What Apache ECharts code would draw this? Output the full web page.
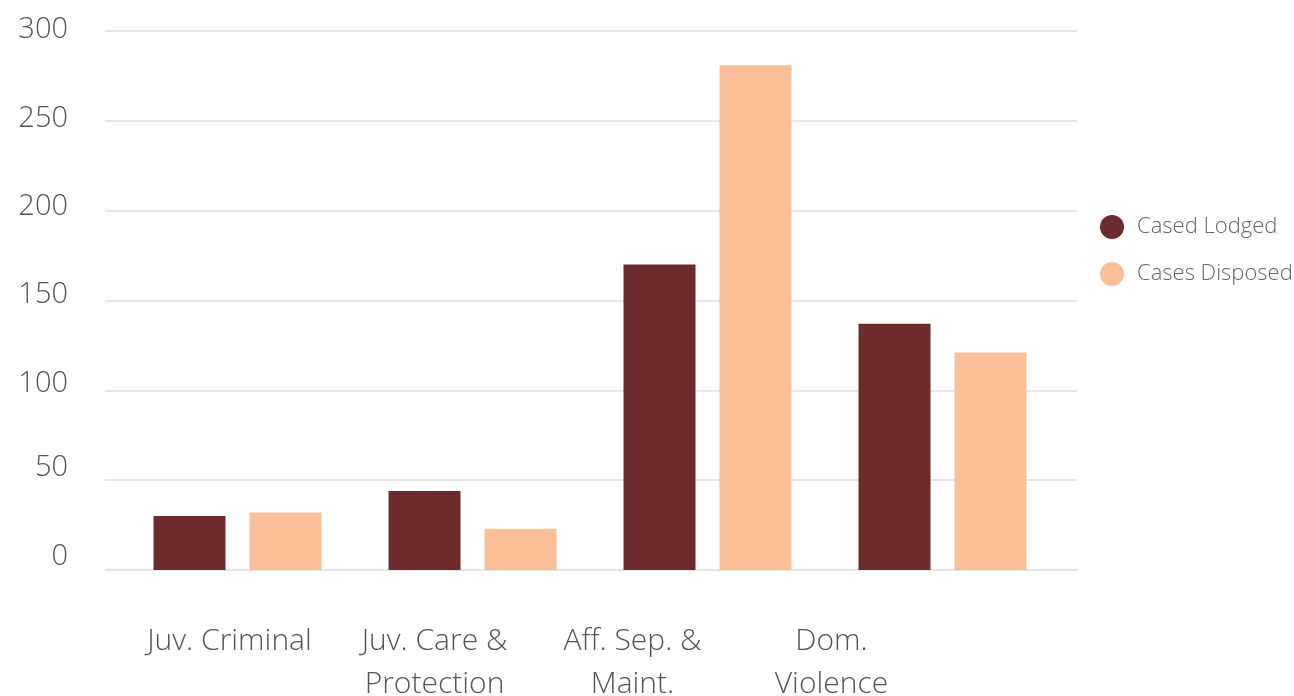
<!DOCTYPE html>
<html>
<head>
<meta charset="utf-8">
<script src="https://cdn.jsdelivr.net/npm/echarts@6/dist/echarts.min.js"></script>
<style>html,body{margin:0;padding:0;background:#fff;}#c{width:1294px;height:696px;}</style>
</head>
<body>
<div id="c"></div>
<script>
var categories = ['Juv. Criminal', 'Juv. Care &\nProtection', 'Aff. Sep. &\nMaint.', 'Dom.\nViolence'];
var casedLodged = [30, 44, 170, 137];
var casesDisposed = [32, 23, 281, 121];
var yTicks = [0, 50, 100, 150, 200, 250, 300];

var labelShift = [-8, -38, -75, -111];
var rich = {};
labelShift.forEach(function (s, i) {
  rich['l' + i] = {
    fontFamily: 'Open Sans', fontWeight: 300, fontSize: 30, color: '#555',
    lineHeight: 43,
    padding: s >= 0 ? [0, 0, 0, 2 * s] : [0, -2 * s, 0, 0]
  };
});
var yLift = [13, 12, 7, 6, 4, 2, 1];
var yRich = {};
yLift.forEach(function (s, i) {
  yRich['y' + i] = {
    fontFamily: 'Open Sans', fontWeight: 300, fontSize: 29, color: '#555',
    padding: [0, 0, 2 * s, 0]
  };
});

var chart = echarts.init(document.getElementById('c'));
chart.setOption({
  animation: false,
  grid: [
    { left: 105, right: 217, top: 31, bottom: 126, containLabel: false, outerBoundsMode: 'none' },
    { left: 120, width: 940, top: 31, bottom: 126, containLabel: false, outerBoundsMode: 'none' }
  ],
  legend: {
    orient: 'vertical', left: 1095, top: 210,
    icon: 'circle', itemWidth: 24, itemHeight: 24, itemGap: 23,
    textStyle: { fontFamily: 'Open Sans', fontWeight: 300, fontSize: 22, color: '#666', padding: [0, 0, 0, 8] },
    data: ['Cased Lodged', 'Cases Disposed']
  },
  xAxis: [
    { type: 'category', gridIndex: 0, data: categories, show: false },
    {
      type: 'category', gridIndex: 1,
      data: categories,
      axisLine: { show: false },
      axisTick: { show: false },
      axisLabel: {
        interval: 0, margin: 50,
        formatter: function (v, i) {
          return v.split('\n').map(function (p) { return '{l' + i + '|' + p + '}'; }).join('\n');
        },
        rich: rich
      }
    }
  ],
  yAxis: [
    {
      type: 'value', gridIndex: 0, min: 0, max: 300, interval: 50,
      axisLine: { show: false }, axisTick: { show: false },
      splitLine: { lineStyle: { color: '#e6e6e6', width: 2 } },
      axisLabel: {
        margin: 37, verticalAlign: 'middle',
        customValues: yTicks,
        formatter: function (v) {
          var i = yTicks.indexOf(v);
          return '{y' + i + '|' + v + '}';
        },
        rich: yRich
      }
    },
    { type: 'value', gridIndex: 1, min: 0, max: 300, interval: 50, show: false, splitLine: { show: false } }
  ],
  series: [
    { name: 'Cased Lodged', type: 'bar', xAxisIndex: 1, yAxisIndex: 1, data: casedLodged, barWidth: 72, barGap: '33.3%',
      itemStyle: { color: '#6D2B2B' } },
    { name: 'Cases Disposed', type: 'bar', xAxisIndex: 1, yAxisIndex: 1, data: casesDisposed, barWidth: 72,
      itemStyle: { color: '#FBBF98' } }
  ]
});
</script>
</body>
</html>
